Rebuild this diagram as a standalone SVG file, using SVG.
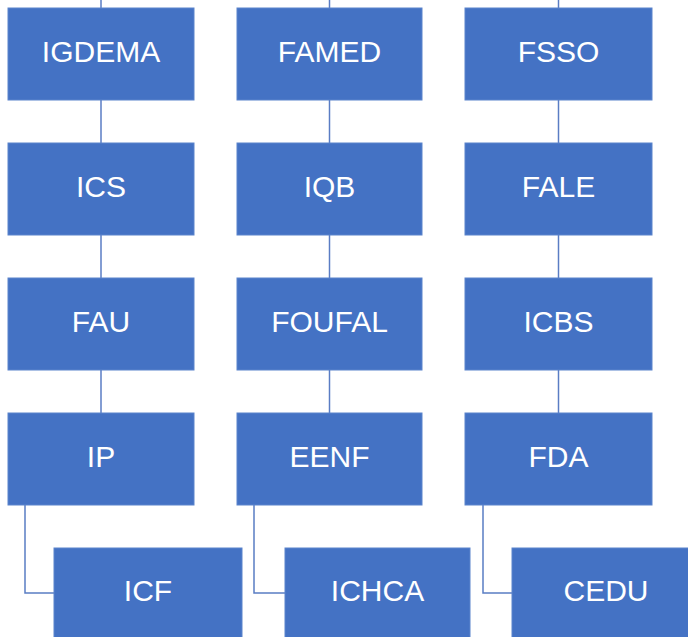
<svg xmlns="http://www.w3.org/2000/svg" width="688" height="637" viewBox="0 0 688 637">
<style>
.box{fill:#4472C4;stroke:#5B84CC;stroke-width:1}
.t{fill:#FFFFFF;font-family:"Liberation Sans",Arial,sans-serif;font-size:30px;text-anchor:middle;dominant-baseline:central}
.c{fill:none;stroke:#5A7DC4;stroke-width:1.5}
</style>
<rect width="688" height="637" fill="#FFFFFF"/>
<g id="connectors">
<line class="c" x1="101" y1="0" x2="101" y2="8"/>
<line class="c" x1="329.5" y1="0" x2="329.5" y2="8"/>
<line class="c" x1="558.5" y1="0" x2="558.5" y2="8"/>
<line class="c" x1="101" y1="100" x2="101" y2="143"/>
<line class="c" x1="101" y1="235" x2="101" y2="278"/>
<line class="c" x1="101" y1="370" x2="101" y2="413"/>
<line class="c" x1="329.5" y1="100" x2="329.5" y2="143"/>
<line class="c" x1="329.5" y1="235" x2="329.5" y2="278"/>
<line class="c" x1="329.5" y1="370" x2="329.5" y2="413"/>
<line class="c" x1="558.5" y1="100" x2="558.5" y2="143"/>
<line class="c" x1="558.5" y1="235" x2="558.5" y2="278"/>
<line class="c" x1="558.5" y1="370" x2="558.5" y2="413"/>
<polyline class="c" points="25,505 25,593 54,593"/>
<polyline class="c" points="254,505 254,593 285,593"/>
<polyline class="c" points="483,505 483,593 512,593"/>
</g>
<g id="IGDEMA"><rect class="box" x="8" y="8" width="186" height="92"/><text class="t" x="101" y="51">IGDEMA</text></g>
<g id="ICS"><rect class="box" x="8" y="143" width="186" height="92"/><text class="t" x="101" y="186">ICS</text></g>
<g id="FAU"><rect class="box" x="8" y="278" width="186" height="92"/><text class="t" x="101" y="321">FAU</text></g>
<g id="IP"><rect class="box" x="8" y="413" width="186" height="92"/><text class="t" x="101" y="456">IP</text></g>
<g id="FAMED"><rect class="box" x="237" y="8" width="185" height="92"/><text class="t" x="329.5" y="51">FAMED</text></g>
<g id="IQB"><rect class="box" x="237" y="143" width="185" height="92"/><text class="t" x="329.5" y="186">IQB</text></g>
<g id="FOUFAL"><rect class="box" x="237" y="278" width="185" height="92"/><text class="t" x="329.5" y="321">FOUFAL</text></g>
<g id="EENF"><rect class="box" x="237" y="413" width="185" height="92"/><text class="t" x="329.5" y="456">EENF</text></g>
<g id="FSSO"><rect class="box" x="465" y="8" width="187" height="92"/><text class="t" x="558.5" y="51">FSSO</text></g>
<g id="FALE"><rect class="box" x="465" y="143" width="187" height="92"/><text class="t" x="558.5" y="186">FALE</text></g>
<g id="ICBS"><rect class="box" x="465" y="278" width="187" height="92"/><text class="t" x="558.5" y="321">ICBS</text></g>
<g id="FDA"><rect class="box" x="465" y="413" width="187" height="92"/><text class="t" x="558.5" y="456">FDA</text></g>
<g id="ICF"><rect class="box" x="54" y="548" width="188" height="100"/><text class="t" x="148" y="590">ICF</text></g>
<g id="ICHCA"><rect class="box" x="285" y="548" width="185" height="100"/><text class="t" x="377.5" y="590">ICHCA</text></g>
<g id="CEDU"><rect class="box" x="512" y="548" width="190" height="100"/><text class="t" x="606" y="590">CEDU</text></g>
</svg>
